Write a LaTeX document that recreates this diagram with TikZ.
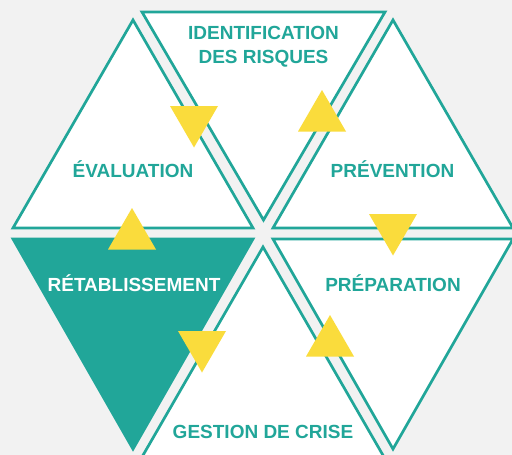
\documentclass[tikz,border=0pt]{standalone}
\usepackage{fontspec}
\setmainfont{Liberation Sans}
\definecolor{teal1}{HTML}{21A699}
\definecolor{sun}{HTML}{FADC3C}
\definecolor{bg}{HTML}{F2F2F2}
\begin{document}
\begin{tikzpicture}[x=1pt,y=-1pt,
  tri/.style={draw=teal1, line width=2.7pt, fill=white, line join=miter},
  trifull/.style={draw=teal1, line width=2.7pt, fill=teal1, line join=miter},
  arrowtri/.style={fill=sun},
  lab/.style={font=\bfseries\fontsize{19}{24}\selectfont, text=teal1, anchor=base, inner sep=0pt, align=center}]
\useasboundingbox (0,0) rectangle (512,455);
\fill[bg] (0,0) rectangle (512,455);
\clip (0,0) rectangle (512,455);
% big triangles
\coordinate (i1) at (142,12);  \coordinate (i2) at (385,12);  \coordinate (i3) at (263.5,220);
\coordinate (e1) at (133,20);  \coordinate (e2) at (253,228); \coordinate (e3) at (13,228);
\coordinate (p1) at (393,20);  \coordinate (p2) at (513,228); \coordinate (p3) at (273,228);
\coordinate (r1) at (13,239);  \coordinate (r2) at (253,239); \coordinate (r3) at (133,449);
\coordinate (a1) at (273,239); \coordinate (a2) at (513,239); \coordinate (a3) at (393,449);
\coordinate (g1) at (263,247); \coordinate (g2) at (384,457); \coordinate (g3) at (142,457);
\draw[tri] (i1) -- (i2) -- (i3) -- cycle;
\draw[tri] (e1) -- (e2) -- (e3) -- cycle;
\draw[tri] (p1) -- (p2) -- (p3) -- cycle;
\draw[trifull] (r1) -- (r2) -- (r3) -- cycle;
\draw[tri] (a1) -- (a2) -- (a3) -- cycle;
\draw[tri] (g1) -- (g2) -- (g3) -- cycle;
% yellow arrow triangles
\fill[arrowtri] (170,106) -- (218,106) -- (194,147.5) -- cycle;
\fill[arrowtri] (322,90) -- (346,131.5) -- (298,131.5) -- cycle;
\fill[arrowtri] (369,214) -- (417,214) -- (393,255.5) -- cycle;
\fill[arrowtri] (330,315) -- (354,356.5) -- (306,356.5) -- cycle;
\fill[arrowtri] (178,331) -- (226,331) -- (202,372.5) -- cycle;
\fill[arrowtri] (132,208) -- (156,249.5) -- (108,249.5) -- cycle;
% labels
\node[lab] (tid) at (263.5,63.8) {IDENTIFICATION\\DES RISQUES};
\node[lab] (tev) at (133,177.8) {ÉVALUATION};
\node[lab] (tpv) at (392.5,177.8) {PRÉVENTION};
\node[lab, text=white] (tre) at (134,291.8) {RÉTABLISSEMENT};
\node[lab] (tpa) at (393,291.8) {PRÉPARATION};
\node[lab] (tge) at (263,438.8) {GESTION DE CRISE};
\end{tikzpicture}
\end{document}
